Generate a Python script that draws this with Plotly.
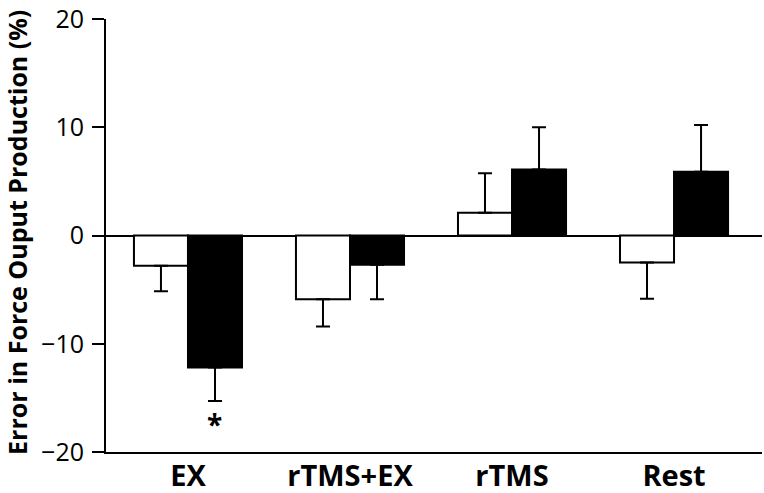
import plotly.graph_objects as go

categories = ["EX", "rTMS+EX", "rTMS", "Rest"]
white_values = [-2.8, -5.9, 2.1, -2.5]
white_errors = [2.35, 2.5, 3.65, 3.35]
black_values = [-12.2, -2.7, 6.1, 5.9]
black_errors = [3.1, 3.2, 3.9, 4.3]
y_ticks = [-20, -10, 0, 10, 20]
y_title = "Error in Force Ouput Production (%)"

FONT = "Open Sans"


def one_sided(values, errors):
    up = [e if v >= 0 else 0 for v, e in zip(values, errors)]
    down = [e if v < 0 else 0 for v, e in zip(values, errors)]
    return up, down


wu, wd = one_sided(white_values, white_errors)
bu, bd = one_sided(black_values, black_errors)

fig = go.Figure()
fig.add_trace(go.Bar(
    x=categories, y=white_values, name="white",
    marker=dict(color="white", line=dict(color="black", width=2)),
    error_y=dict(type="data", symmetric=False, array=wu, arrayminus=wd,
                 color="black", thickness=2, width=7),
))
fig.add_trace(go.Bar(
    x=categories, y=black_values, name="black",
    marker=dict(color="black", line=dict(color="black", width=2)),
    error_y=dict(type="data", symmetric=False, array=bu, arrayminus=bd,
                 color="black", thickness=2, width=7),
))

fig.add_annotation(x=0, y=-17.4, xref="x", yref="y", text="<b>*</b>",
                   showarrow=False, xshift=27, yanchor="middle",
                   font=dict(size=28, color="black", family=FONT))

fig.add_annotation(x=0, y=0.506, xref="paper", yref="paper",
                   text="<b>" + y_title + "</b>", textangle=-90,
                   showarrow=False, xshift=-89, xanchor="center", yanchor="middle",
                   font=dict(size=25, color="black", family=FONT))

fig.update_layout(
    width=764, height=493,
    margin=dict(l=106, r=2, t=19, b=41),
    paper_bgcolor="white", plot_bgcolor="white",
    barmode="group", bargap=0.333, bargroupgap=0,
    showlegend=False,
    font=dict(family=FONT, color="black"),
)
fig.update_xaxes(
    range=[-0.506, 3.543], showline=True, linecolor="black", linewidth=2,
    ticks="", showgrid=False, zeroline=False, automargin=False,
    tickfont=dict(size=29, family=FONT, weight="bold"),
    tickangle=0, ticklabelstandoff=-3,
)
fig.update_yaxes(
    range=[-20, 20], tickvals=y_ticks, showline=True, linecolor="black",
    linewidth=2, ticks="outside", ticklen=12, tickwidth=2, tickcolor="black",
    showgrid=False, zeroline=True, zerolinecolor="black", zerolinewidth=2,
    automargin=False, ticklabelstandoff=3,
    tickfont=dict(size=25, family=FONT),
)

fig.write_html("out.html", config={"displayModeBar": False},
               post_script="document.body.style.margin='0';")
